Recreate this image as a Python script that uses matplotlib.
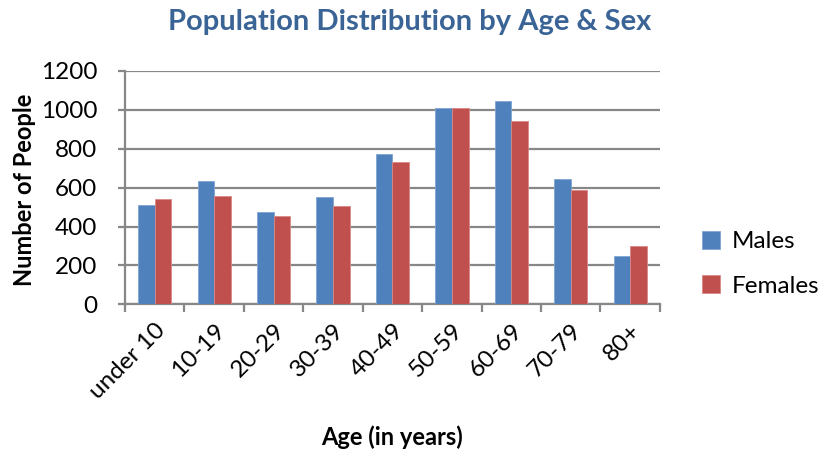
import matplotlib
matplotlib.use("Agg")
import matplotlib.pyplot as plt
import numpy as np

categories = ["under 10", "10-19", "20-29", "30-39", "40-49", "50-59", "60-69", "70-79", "80+"]
males = [509, 636, 476, 552, 771, 1009, 1046, 644, 247]
females = [542, 557, 456, 506, 732, 1009, 943, 590, 300]
yticks = [0, 200, 400, 600, 800, 1000, 1200]

plt.rcParams['font.family'] = ['Lato', 'DejaVu Sans']

fig = plt.figure(figsize=(8.28, 4.55), dpi=100)
ax = fig.add_axes([0.151, 0.331, 0.646, 0.513])

x = np.arange(len(categories))
w = 0.28
grid_c = '#878787'
ax.bar(x - w/2, males, w, color='#4F81BD', edgecolor='#7FA4D4', linewidth=0.6, label='Males', zorder=3)
ax.bar(x + w/2, females, w, color='#C0504D', edgecolor='#DA8886', linewidth=0.6, label='Females', zorder=3)

ax.set_xlim(-0.5, len(categories) - 0.5)
ax.set_ylim(0, 1200)
ax.set_yticks(yticks)
ax.set_yticklabels([str(v) for v in yticks], fontsize=17.5)
ax.yaxis.grid(True, color=grid_c, linewidth=1.6, zorder=0)
ax.set_axisbelow(True)

ax.set_xticks(np.arange(len(categories) + 1) - 0.5)
ax.set_xticklabels([])
ax.set_xticks(x, minor=True)
ax.set_xticklabels(categories, minor=True, rotation=45, ha='right', rotation_mode='anchor', fontsize=17.5)
ax.tick_params(axis='x', which='minor', length=0, pad=11)
ax.tick_params(axis='x', which='major', length=6, width=1.6, color=grid_c, direction='out')
ax.tick_params(axis='y', length=5, width=1.6, color=grid_c, direction='out', pad=15)

for s in ['top', 'right']:
    ax.spines[s].set_visible(False)
for s in ['left', 'bottom']:
    ax.spines[s].set_color(grid_c)
    ax.spines[s].set_linewidth(1.6)

fig.text(0.030, 0.582, 'Number of People', fontsize=17, fontweight='bold', rotation=90,
         ha='center', va='center')
fig.text(0.473, 0.04, 'Age (in years)', fontsize=17, fontweight='bold', ha='center', va='center')
fig.text(0.495, 0.952, 'Population Distribution by Age & Sex', fontsize=21, fontweight='bold',
         color='#3A6496', ha='center', va='center')

leg = fig.legend(*ax.get_legend_handles_labels(), loc='center left',
                 bbox_to_anchor=(0.848, 0.42), frameon=False, fontsize=17.5,
                 handlelength=0.75, handleheight=0.75, labelspacing=0.95, handletextpad=0.45,
                 borderpad=0, borderaxespad=0)

fig.savefig('out.png', dpi=100)
